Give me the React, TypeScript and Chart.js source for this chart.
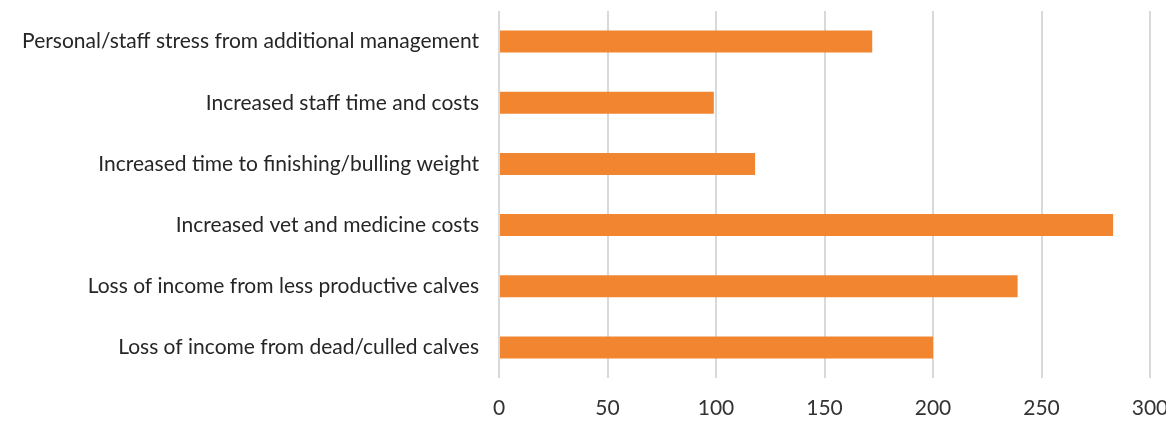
import React, { useEffect, useRef } from "react";
import { Chart, registerables } from "chart.js";

Chart.register(...registerables);

const categories = [
  "Personal/staff stress from additional management",
  "Increased staff time and costs",
  "Increased time to finishing/bulling weight",
  "Increased vet and medicine costs",
  "Loss of income from less productive calves",
  "Loss of income from dead/culled calves",
];
const values = [172, 99, 118, 283, 239, 200];
const xTicks = [0, 50, 100, 150, 200, 250, 300];

export default function App() {
  const ref = useRef<HTMLCanvasElement>(null);
  useEffect(() => {
    document.body.style.margin = "0";
    const ctx = ref.current!;
    const chart = new Chart(ctx, {
      type: "bar",
      data: {
        labels: categories,
        datasets: [
          {
            data: values,
            backgroundColor: "#f28630",
            barPercentage: 0.6,
            categoryPercentage: 0.6,
          },
        ],
      },
      options: {
        indexAxis: "y",
        animation: false,
        responsive: false,
        maintainAspectRatio: false,
        layout: { padding: { top: 11, left: 0, right: 0, bottom: 0 } },
        plugins: { legend: { display: false }, tooltip: { enabled: false } },
        scales: {
          x: {
            min: 0,
            max: 300,
            afterBuildTicks: (scale: any) => {
              scale.ticks = xTicks.map((v) => ({ value: v }));
            },
            afterFit: (scale: any) => {
              scale.height = 48;
              scale.paddingLeft = 0;
              scale.paddingRight = 16;
            },
            grid: { color: "#d9d9d9", lineWidth: 2, drawTicks: false },
            border: { display: false },
            ticks: {
              padding: 18,
              color: "#333333",
              font: { family: "Lato", size: 21 },
            },
          },
          y: {
            grid: { display: false },
            border: { display: false },
            afterFit: (scale: any) => {
              scale.width = 499;
              scale.paddingTop = 0;
              scale.paddingBottom = 0;
            },
            ticks: {
              padding: 12,
              color: "#262626",
              font: { family: "Lato", size: 21 },
            },
          },
        },
      },
    });
    return () => chart.destroy();
  }, []);
  return (
    <div style={{ width: 1166, height: 426 }}>
      <canvas ref={ref} width={1166} height={426} />
    </div>
  );
}
